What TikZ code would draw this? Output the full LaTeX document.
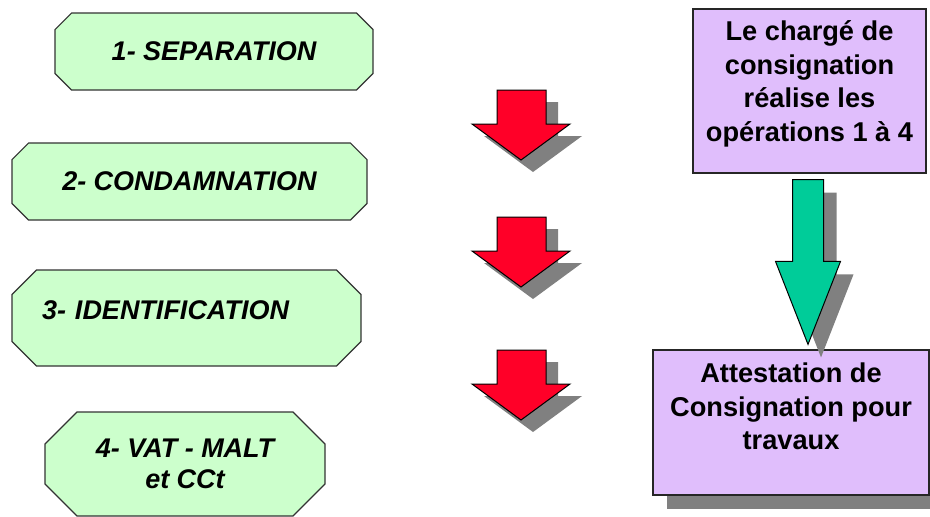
\documentclass[tikz,border=0pt]{standalone}
\usepackage{fontspec}
\setmainfont{Liberation Sans}
\usepackage{xcolor}
\usepackage{tikz}
\usetikzlibrary{shapes.misc, shadows, calc, positioning}

\definecolor{stepgreen}{RGB}{204,255,204}
\definecolor{notelilac}{RGB}{224,190,252}
\definecolor{downred}{RGB}{255,0,40}
\definecolor{downgreen}{RGB}{0,204,153}

\begin{document}
\begin{tikzpicture}[
    x=0.5pt, y=-0.5pt,
    stepbox/.style={draw=black!80, fill=stepgreen, chamfered rectangle, line width=0.6pt, inner sep=0pt, align=center, font=\fontsize{13.5}{15.5}\selectfont\bfseries\itshape},
    notebox/.style={draw=black!85, fill=notelilac, rectangle, line width=0.6pt, inner sep=0pt, align=center, font=\fontsize{13.6}{16.8}\selectfont\bfseries},
    boxshadow/.style={drop shadow={shadow xshift=#1, shadow yshift=-#1, fill=black!50, opacity=1}},
    blockarrow/.style={draw=black, line width=0.5pt, line join=miter}
]
\useasboundingbox (0,0) rectangle (930,516);

% Steps
\node (sep) [stepbox, minimum width=159pt, minimum height=38.5pt, chamfered rectangle xsep=10pt] at (214,51.5) {1- SEPARATION};
\node (cond) [stepbox, minimum width=177.5pt, minimum height=38.5pt, chamfered rectangle xsep=11pt] at (189.5,181.5) {2- CONDAMNATION};
\node (ident) [stepbox, minimum width=174.5pt, minimum height=48pt, chamfered rectangle xsep=13.5pt, text width=144.5pt, align=left, text depth=8pt] at (186.5,318) {3- IDENTIFICATION};
\node (malt) [stepbox, minimum width=140pt, minimum height=52pt, chamfered rectangle xsep=15pt] at (185,464) {4- VAT - MALT\\et CCt};

% Red arrows
\foreach \t in {90,217,350} {
  \path[blockarrow, fill=downred, boxshadow=6pt] (497,\t) -- (546,\t) -- (546,\t+34) -- (570,\t+34) -- (521,\t+70) -- (472,\t+34) -- (497,\t+34) -- cycle;
}

% Right column
\node (consign) [notebox, minimum width=116.5pt, minimum height=82pt, text depth=10pt] at (809.5,91) {Le chargé de\\consignation\\réalise les\\opérations 1 à 4};
\node (attest) [notebox, minimum width=138pt, minimum height=72.5pt, text depth=16pt, boxshadow=7pt] at (791,422.5) {Attestation de\\Consignation pour\\travaux};

% Green arrow
\coordinate (gtop) at ($(consign.south)+(-1.5,6)$);
\coordinate (gtip) at ($(consign.south |- attest.north)+(-1.5,-5)$);
\path[blockarrow, fill=downgreen, boxshadow=6.5pt] ($(gtop)+(-15.5,0)$) -- ($(gtop)+(15.5,0)$) -- ($(gtip)+(15.5,-83)$) -- ($(gtip)+(32.5,-83)$) -- (gtip) -- ($(gtip)+(-32.5,-83)$) -- ($(gtip)+(-15.5,-83)$) -- cycle;

\end{tikzpicture}
\end{document}
